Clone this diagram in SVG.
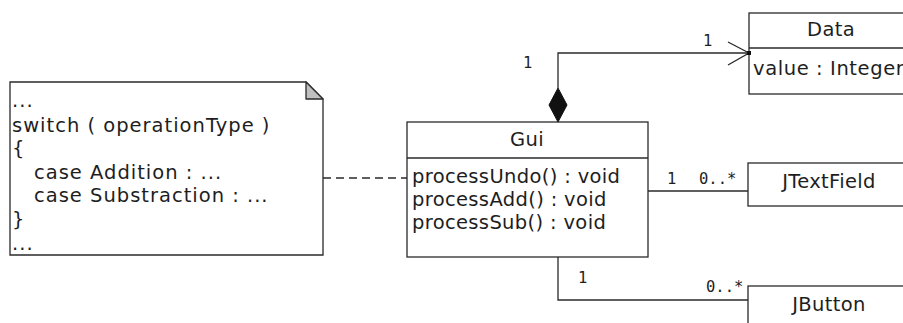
<svg xmlns="http://www.w3.org/2000/svg" width="903" height="323" viewBox="0 0 903 323">
  <style>
    .box { fill: #ffffff; stroke: #2a2a2a; stroke-width: 1.3; }
    .ln { fill: none; stroke: #2a2a2a; stroke-width: 1.3; }
    .txt { font-family: "DejaVu Sans", Verdana, sans-serif; font-size: 19.5px; fill: #1e1e1e; letter-spacing: 0.35px; }
    .wide { letter-spacing: 1px; }
    .mid { text-anchor: middle; }
    .mult { font-family: "DejaVu Sans Mono", "Liberation Mono", monospace; font-size: 15.5px; fill: #1e1e1e; }
  </style>
  <rect width="903" height="323" fill="#ffffff"/>

  <!-- note attached to Gui -->
  <g id="note">
    <path class="box" d="M10,82 H306 L323,99 V255 H10 Z"/>
    <path d="M306,82 V99 H323 Z" fill="#c0c0c0" stroke="#2a2a2a" stroke-width="1.3" stroke-linejoin="round"/>
    <text class="txt wide" x="12" y="107">...</text>
    <text class="txt wide" x="12" y="132">switch ( operationType )</text>
    <text class="txt wide" x="12" y="155">{</text>
    <text class="txt wide" x="34" y="179">case Addition : ...</text>
    <text class="txt wide" x="34" y="202">case Substraction : ...</text>
    <text class="txt wide" x="12" y="226">}</text>
    <text class="txt wide" x="12" y="250">...</text>
  </g>

  <!-- classes -->
  <g id="gui">
    <rect class="box" x="407" y="122" width="241" height="135"/>
    <line class="ln" x1="407" y1="158" x2="648" y2="158"/>
    <text class="txt mid" x="527" y="146">Gui</text>
    <text class="txt" x="412" y="183">processUndo() : void</text>
    <text class="txt" x="412" y="206">processAdd() : void</text>
    <text class="txt" x="412" y="229">processSub() : void</text>
  </g>

  <g id="data">
    <rect class="box" x="749" y="13" width="170" height="81"/>
    <line class="ln" x1="749" y1="48" x2="919" y2="48"/>
    <text class="txt mid" x="831" y="36">Data</text>
    <text class="txt" x="753" y="75" style="letter-spacing:0.6px">value : Integer</text>
  </g>

  <g id="jtextfield">
    <rect class="box" x="748" y="163" width="170" height="43"/>
    <text class="txt mid" x="829" y="188">JTextField</text>
  </g>

  <g id="jbutton">
    <rect class="box" x="748" y="286" width="170" height="50"/>
    <text class="txt mid" x="829" y="311">JButton</text>
  </g>

  <!-- connectors -->
  <g id="connectors">
    <!-- note link -->
    <line class="ln" x1="323" y1="178" x2="407" y2="178" stroke-dasharray="8,5"/>
    <!-- composition Gui -> Data -->
    <path class="ln" d="M558,88 V53 H749"/>
    <path d="M558,88 L567,105 L558,122 L549,105 Z" fill="#111111" stroke="#111111" stroke-width="1"/>
    <path class="ln" d="M728,42 L749,53 L728,65"/>
    <rect x="747" y="51" width="4" height="4" fill="#111111"/>
    <text class="mult" x="523" y="68">1</text>
    <text class="mult" x="703" y="46">1</text>
    <!-- Gui -> JTextField -->
    <line class="ln" x1="648" y1="191" x2="748" y2="191"/>
    <text class="mult" x="667" y="184">1</text>
    <text class="mult" x="699" y="184">0..*</text>
    <!-- Gui -> JButton -->
    <path class="ln" d="M558,257 V300 H748"/>
    <text class="mult" x="578" y="283">1</text>
    <text class="mult" x="706" y="292">0..*</text>
  </g>
</svg>
